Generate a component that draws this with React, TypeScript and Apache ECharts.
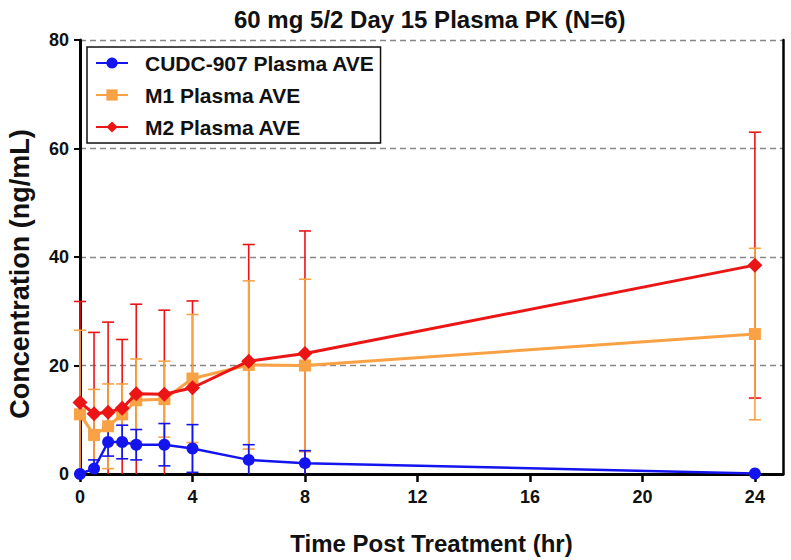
import React, { useEffect, useRef } from "react";
import * as echarts from "echarts";

const timeHr = [0, 0.5, 1, 1.5, 2, 3, 4, 6, 8, 24];
const cudcMean = [0, 1.0, 5.9, 5.9, 5.4, 5.4, 4.7, 2.6, 2.0, 0.1];
const cudcSD = [0, 1.6, 2.6, 3.1, 2.8, 3.9, 4.4, 2.8, 2.3, 0];
const m1Mean = [11.0, 7.2, 8.8, 11.0, 13.6, 13.8, 17.6, 20.1, 20.0, 25.8];
const m1SD = [15.5, 8.4, 7.8, 5.6, 7.6, 7.0, 11.8, 15.5, 15.9, 15.8];
const m2Mean = [13.2, 11.1, 11.4, 12.1, 14.8, 14.7, 15.9, 20.8, 22.2, 38.5];
const m2SD = [18.6, 15.0, 16.6, 12.7, 16.5, 15.5, 16.0, 21.5, 22.6, 24.5];
const xTicks = [0, 4, 8, 12, 16, 20, 24];
const seriesNames = ["CUDC-907 Plasma AVE", "M1 Plasma AVE", "M2 Plasma AVE"];

const FONT = "'Liberation Sans', Arial, Helvetica, sans-serif";
const BLUE = "#1414ee";
const ORANGE = "#f8a245";
const RED = "#ec1515";

function pairs(mean: number[]) {
  return timeHr.map((t, i) => [t, mean[i]]);
}
function bars(mean: number[], sd: number[]) {
  return timeHr.map((t, i) => [t, mean[i] - sd[i], mean[i] + sd[i]]);
}

function errorSeries(name: string, data: number[][], color: string, z: number) {
  return {
    type: "custom",
    name: name + " SD",
    z,
    clip: false,
    silent: true,
    encode: { x: 0, y: [1, 2] },
    data,
    renderItem: (params: any, api: any) => {
      const x = api.value(0);
      const lo = api.value(1);
      const hi = api.value(2);
      if (hi - lo <= 0) return { type: "group", children: [] };
      const loC = Math.max(lo, 0);
      const top = api.coord([x, hi]);
      const bot = api.coord([x, loC]);
      const hw = 6;
      const st = { stroke: color, lineWidth: 1.6 };
      const children: any[] = [
        { type: "line", shape: { x1: top[0], y1: top[1], x2: bot[0], y2: bot[1] }, style: st },
        { type: "line", shape: { x1: top[0] - hw, y1: top[1], x2: top[0] + hw, y2: top[1] }, style: st },
      ];
      if (lo > 0) {
        children.push({ type: "line", shape: { x1: bot[0] - hw, y1: bot[1], x2: bot[0] + hw, y2: bot[1] }, style: st });
      }
      return { type: "group", children };
    },
  };
}

export default function App() {
  const ref = useRef<HTMLDivElement>(null);
  useEffect(() => {
    if (!ref.current) return;
    const chart = echarts.init(ref.current, null, { renderer: "svg" });
    const option: any = {
      animation: false,
      backgroundColor: "#ffffff",
      textStyle: { fontFamily: FONT },
      title: {
        text: "60 mg 5/2 Day 15 Plasma PK (N=6)",
        left: 234,
        top: 7,
        padding: 0,
        textStyle: { fontFamily: FONT, fontSize: 24, fontWeight: "bold", color: "#111" },
      },
      legend: {
        data: seriesNames,
        orient: "vertical",
        left: 87,
        top: 47,
        padding: [4, 6, 4, 8],
        itemGap: 8,
        itemWidth: 32,
        itemHeight: 14,
        borderColor: "#111",
        borderWidth: 1.5,
        backgroundColor: "#fff",
        textStyle: { fontFamily: FONT, fontSize: 21, fontWeight: "bold", color: "#111", lineHeight: 24, padding: [0, 0, 0, 12] },
      },
      grid: { left: 80, right: 8, top: 40, bottom: 82, containLabel: false },
      xAxis: {
        type: "value",
        min: 0,
        max: 25,
        interval: 4,
        name: "Time Post Treatment (hr)",
        nameLocation: "middle",
        nameGap: 57,
        nameTextStyle: { fontFamily: FONT, fontSize: 24, fontWeight: "bold", color: "#111" },
        axisLine: { show: true, onZero: false, lineStyle: { color: "#000", width: 3 } },
        axisTick: { show: true, customValues: xTicks, length: 8, lineStyle: { color: "#000", width: 2.5 } },
        axisLabel: { customValues: xTicks, margin: 14, fontFamily: FONT, fontSize: 18, fontWeight: "bold", color: "#111" },
        splitLine: { show: false },
      },
      yAxis: [
        {
          type: "value",
          min: 0,
          max: 80,
          interval: 20,
          axisLine: { show: true, onZero: false, lineStyle: { color: "#000", width: 3 } },
          axisTick: { show: true, length: 6, lineStyle: { color: "#000", width: 2 } },
          axisLabel: { margin: 11, fontFamily: FONT, fontSize: 18, fontWeight: "bold", color: "#111" },
          splitLine: { show: true, lineStyle: { color: "#888", width: 1.3, type: [6, 4] } },
        },
        {
          type: "value",
          position: "right",
          min: 0,
          max: 80,
          interval: 20,
          axisLine: { show: true, onZero: false, lineStyle: { color: "#000", width: 2.5 } },
          axisTick: { show: false },
          axisLabel: { show: false },
          splitLine: { show: false },
        },
      ],
      graphic: [
        {
          type: "text",
          x: 6,
          y: 274,
          rotation: Math.PI / 2,
          style: {
            text: "Concentration (ng/mL)",
            font: "bold 27px " + FONT,
            fill: "#111",
            align: "center",
            verticalAlign: "top",
          },
        },
      ],
      series: [
        errorSeries(seriesNames[2], bars(m2Mean, m2SD), RED, 2),
        errorSeries(seriesNames[1], bars(m1Mean, m1SD), ORANGE, 2),
        errorSeries(seriesNames[0], bars(cudcMean, cudcSD), BLUE, 2),
        {
          type: "line",
          name: seriesNames[1],
          data: pairs(m1Mean),
          z: 3,
          clip: false,
          color: ORANGE,
          symbol: "rect",
          symbolSize: 12,
          lineStyle: { width: 3, color: ORANGE },
          itemStyle: { color: ORANGE },
        },
        {
          type: "line",
          name: seriesNames[2],
          data: pairs(m2Mean),
          z: 4,
          clip: false,
          color: RED,
          symbol: "diamond",
          symbolSize: 15,
          lineStyle: { width: 3, color: RED },
          itemStyle: { color: RED },
        },
        {
          type: "line",
          name: seriesNames[0],
          data: pairs(cudcMean),
          z: 5,
          clip: false,
          color: BLUE,
          symbol: "circle",
          symbolSize: 12,
          lineStyle: { width: 2.5, color: BLUE },
          itemStyle: { color: BLUE },
        },
      ],
    };
    chart.setOption(option);
    return () => chart.dispose();
  }, []);
  return <div ref={ref} style={{ position: "fixed", left: 0, top: 0, width: 791, height: 560 }} />;
}
